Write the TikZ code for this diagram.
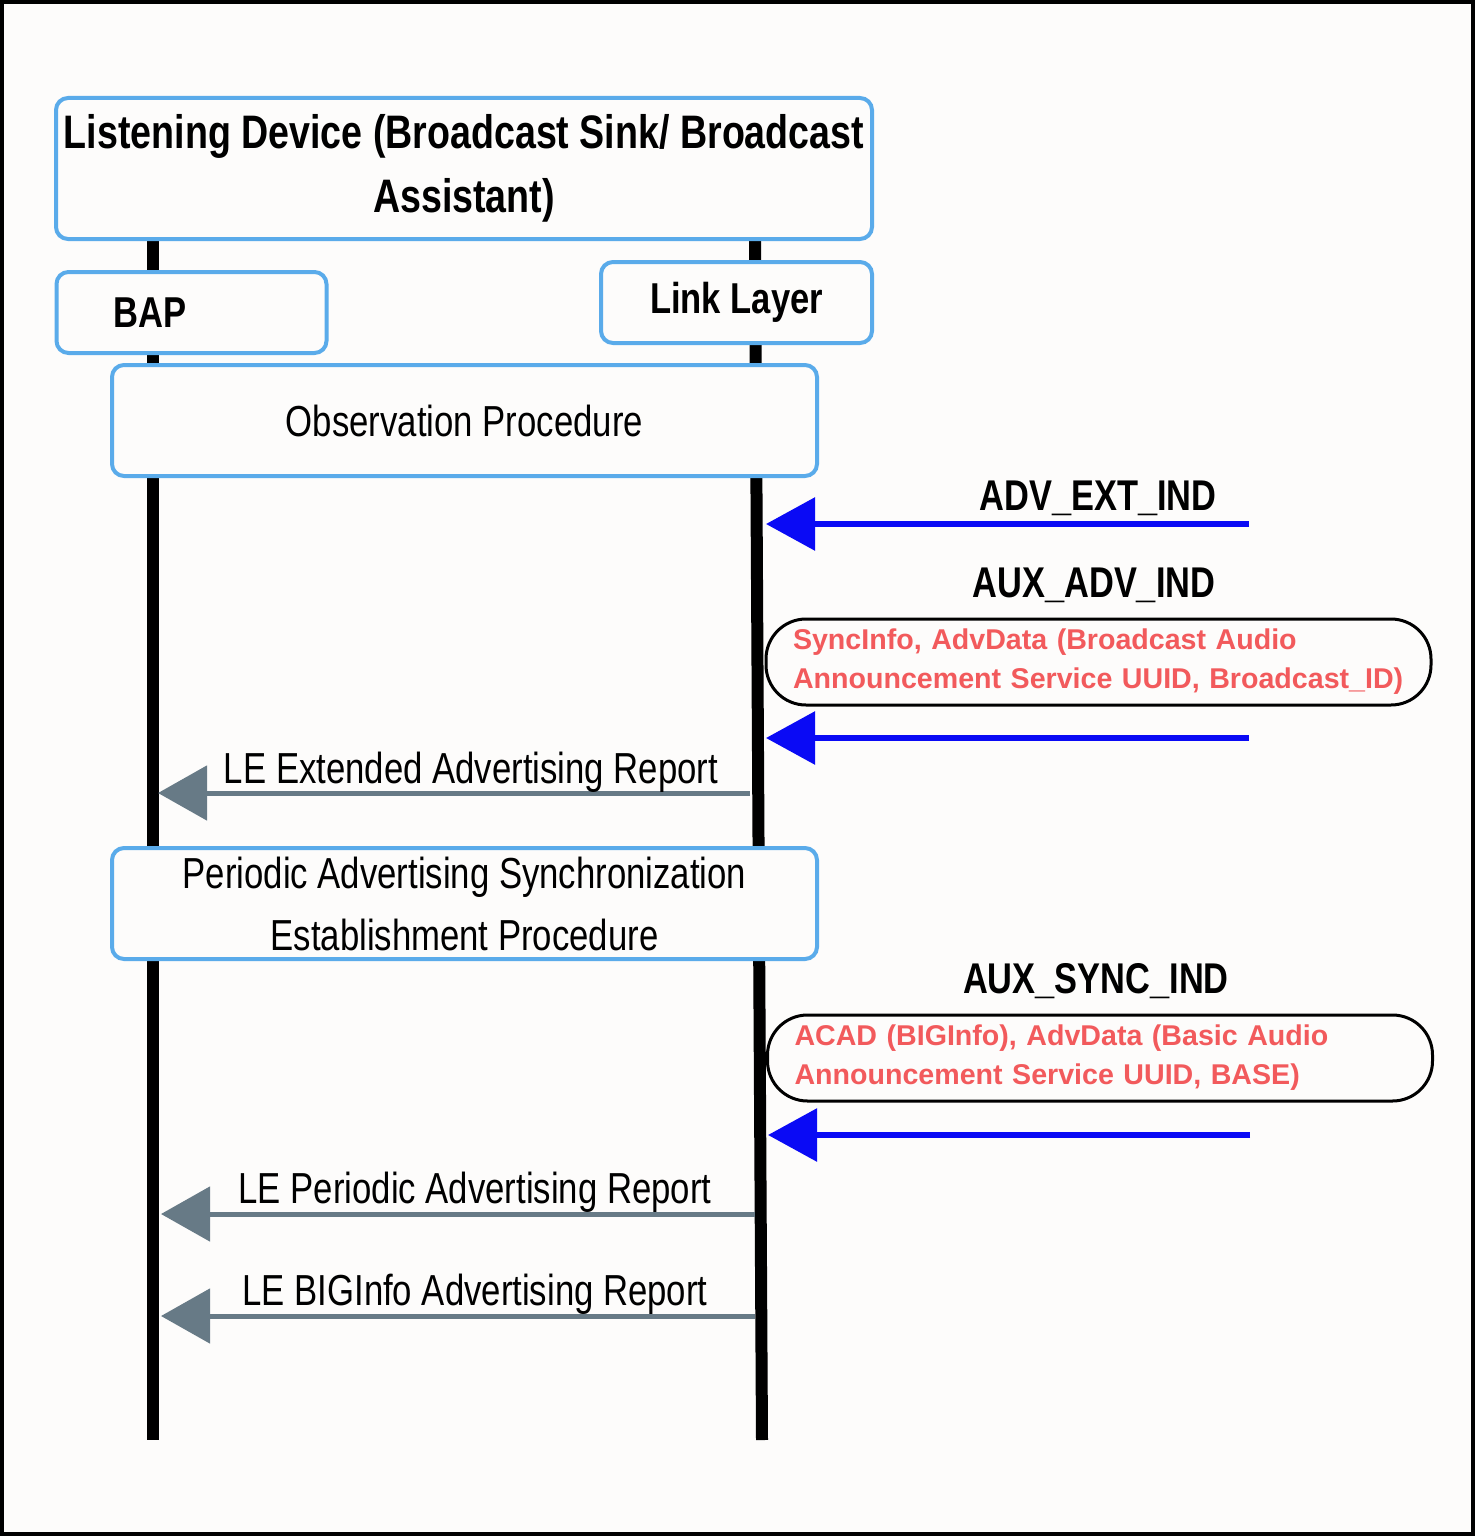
\documentclass[tikz,border=0pt]{standalone}
\usepackage{fontspec}
\setmainfont{Liberation Sans}
\newfontfamily\condfont{Liberation Sans}[FakeStretch=0.8]
\usetikzlibrary{arrows.meta}
\definecolor{paper}{HTML}{FDFCFB}
\definecolor{boxblue}{HTML}{5AABEA}
\definecolor{airblue}{HTML}{0A0AF5}
\definecolor{repgray}{HTML}{677A86}
\definecolor{pdured}{HTML}{F25A5C}

\begin{document}
\begin{tikzpicture}[x=0.5pt, y=-0.5pt,
    lanebox/.style={draw=boxblue, line width=2pt, rounded corners=6pt, fill=paper, inner sep=0pt},
    procbox/.style={lanebox, minimum width=352.5pt, minimum height=55.5pt, align=center,
      font=\condfont\fontsize{21.7}{31}\selectfont},
    pdubox/.style={draw=black, line width=1.5pt, rounded corners=20pt, fill=paper,
      minimum width=332.5pt, minimum height=43pt, inner xsep=13.5pt, inner ysep=0pt,
      text width=305.5pt, align=left, text=pdured, font=\bfseries\fontsize{14.3}{19.5}\selectfont},
    pdu/.style={font=\condfont\bfseries\fontsize{21.5}{22}\selectfont, inner sep=0pt, anchor=base},
    rep/.style={font=\condfont\fontsize{21.7}{22}\selectfont, inner sep=0pt, anchor=base},
    lifeline/.style={line width=6pt},
    air/.style={draw=airblue, line width=3pt, -{Triangle[length=24.5pt, width=26pt]}},
    hci/.style={draw=repgray, line width=2.5pt, -{Triangle[length=24.5pt, width=27pt]}}]

  \useasboundingbox (0,0) rectangle (1475,1536);
  \fill[paper] (0,0) rectangle (1475,1536);
  \draw[line width=2pt] (2,2) rectangle (1473,1534);

  % lifelines
  \coordinate (baptop) at (153,238);
  \coordinate (bapbot) at (153,1440);
  \coordinate (lltop) at (755,238);
  \coordinate (llbot) at (762,1440);
  \draw[lifeline] (baptop) -- (bapbot);
  \draw[lifeline] (lltop) -- (llbot);

  % entities
  \node[lanebox, minimum width=408pt, minimum height=70.5pt, align=center,
    font=\condfont\bfseries\fontsize{23.5}{32}\selectfont] (dev) at (464,168.5)
    {Listening Device (Broadcast Sink/ Broadcast\\Assistant)};
  \node[lanebox, minimum height=40.5pt, text width=78pt, inner xsep=28.5pt, align=left,
    font=\condfont\bfseries\fontsize{21.6}{22}\selectfont] (bap) at (191.5,312.5) {BAP};
  \node[lanebox, minimum width=135.5pt, minimum height=40.5pt,
    font=\condfont\bfseries\fontsize{21.6}{22}\selectfont] (ll) at (736.5,302.5) {Link Layer};

  % procedures
  \node[procbox] (obs) at (464.5,420.5) {Observation Procedure};
  \node[procbox] (pasync) at (464.5,903.5)
    {Periodic Advertising Synchronization\\Establishment Procedure};

  % air interface
  \node[pdu] (extlbl) at (1098,510) {ADV\_EXT\_IND};
  \coordinate (extsrc) at (1249,524);
  \coordinate (extdst) at (766,524);
  \draw[air] (extsrc) -- (extdst);

  \node[pdu] (auxlbl) at (1094,597) {AUX\_ADV\_IND};
  \node[pdubox] (auxinfo) at (1098.5,662)
    {SyncInfo, AdvData (Broadcast Audio\\Announcement Service UUID, Broadcast\_ID)};
  \coordinate (auxsrc) at (1249,738);
  \coordinate (auxdst) at (766,738);
  \draw[air] (auxsrc) -- (auxdst);

  \node[pdu] (synclbl) at (1096,993) {AUX\_SYNC\_IND};
  \node[pdubox] (syncinfo) at (1100,1058)
    {ACAD (BIGInfo), AdvData (Basic Audio\\Announcement Service UUID, BASE)};
  \coordinate (syncsrc) at (1250,1135);
  \coordinate (syncdst) at (768,1135);
  \draw[air] (syncsrc) -- (syncdst);

  % HCI events
  \coordinate (extrepsrc) at (750,793);
  \coordinate (extrepdst) at (158,793);
  \draw[hci] (extrepsrc) -- (extrepdst);
  \node[rep] (extrep) at (471,783) {LE Extended Advertising Report};

  \coordinate (perrepsrc) at (755,1214);
  \coordinate (perrepdst) at (161,1214);
  \draw[hci] (perrepsrc) -- (perrepdst);
  \node[rep] (perrep) at (475,1203) {LE Periodic Advertising Report};

  \coordinate (bigrepsrc) at (755,1316);
  \coordinate (bigrepdst) at (161,1316);
  \draw[hci] (bigrepsrc) -- (bigrepdst);
  \node[rep] (bigrep) at (475,1305) {LE BIGInfo Advertising Report};
\end{tikzpicture}
\end{document}
